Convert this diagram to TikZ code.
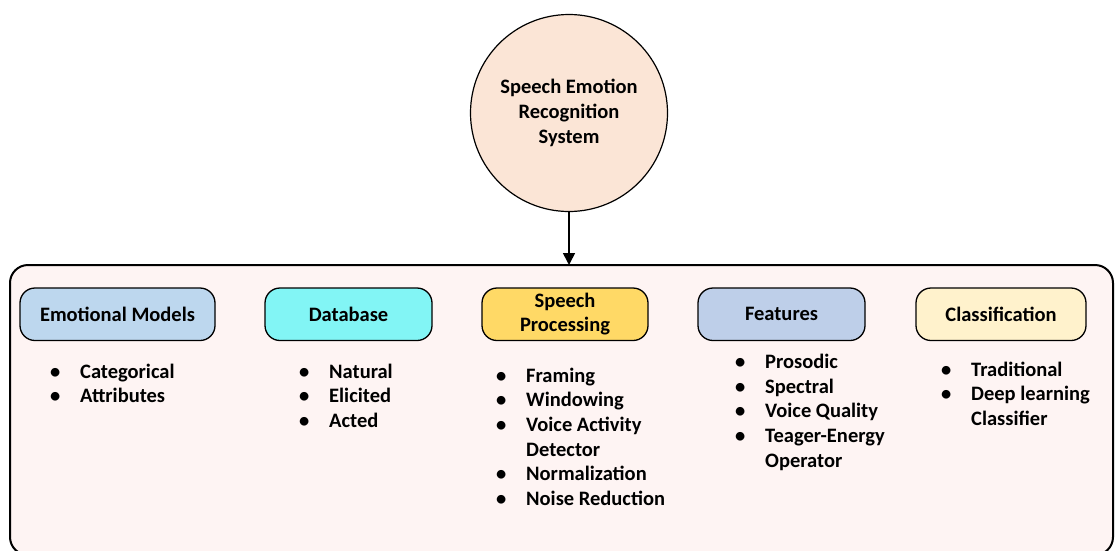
\documentclass[tikz,border=0pt]{standalone}
\usepackage{fontspec}
\setmainfont{Carlito}
\usetikzlibrary{arrows.meta}
\definecolor{circfill}{RGB}{251,229,214}
\definecolor{framefill}{RGB}{254,244,243}
\definecolor{emfill}{RGB}{189,215,238}
\definecolor{dbfill}{RGB}{130,245,245}
\definecolor{spfill}{RGB}{255,217,102}
\definecolor{ftfill}{RGB}{190,207,233}
\definecolor{clfill}{RGB}{255,242,204}
\newcommand\bitem[1]{\makebox[30pt][l]{\textbullet}#1}
\newcommand\bcont[1]{\hspace*{30pt}#1}
\begin{document}
\begin{tikzpicture}[x=1pt,y=-1pt,
  bigframe/.style={draw=black, line width=2pt, fill=framefill, rounded corners=18pt, inner sep=0pt, outer sep=0pt, anchor=north west},
  head/.style={draw=black, line width=1.3pt, rounded corners=15pt, minimum height=52.5pt, inner sep=0pt, outer sep=0pt, anchor=north west, align=center, font=\fontsize{20.5}{24}\selectfont\bfseries},
  listtext/.style={inner sep=0pt, anchor=base west, font=\fontsize{20.5}{24.7}\selectfont\bfseries},
  arr/.style={line width=1.6pt, -{Triangle[width=12pt,length=12pt]}}]
\useasboundingbox (0,0) rectangle (1115,550);
\clip (0,0) rectangle (1115,550);
\node[bigframe, minimum width=1103pt, minimum height=290pt] (frame) at (10,265) {};
\node[circle, draw=black, line width=1.2pt, fill=circfill, minimum size=197pt, inner sep=0pt, align=center, font=\fontsize{20.5}{25}\selectfont\bfseries] (ser) at (569,113) {Speech Emotion\\Recognition\\System};
\draw[arr] (ser.south) -- (ser.south |- frame.north);
\node[head, fill=emfill, minimum width=195pt] (em) at (20,288) {Emotional Models};
\node[head, fill=dbfill, minimum width=167pt] (db) at (265,288) {Database};
\node[head, fill=spfill, minimum width=166pt] (sp) at (482,288) {Speech\\Processing};
\node[head, fill=ftfill, minimum width=167pt] (ft) at (698,288) {Features};
\node[head, fill=clfill, minimum width=170pt] (cl) at (916,288) {Classification};
\node[listtext] (emlist) at (50,378) {\begin{tabular}[t]{@{}l@{}}\bitem{Categorical}\\\bitem{Attributes}\end{tabular}};
\node[listtext] (dblist) at (299,378) {\begin{tabular}[t]{@{}l@{}}\bitem{Natural}\\\bitem{Elicited}\\\bitem{Acted}\end{tabular}};
\node[listtext] (splist) at (496,382) {\begin{tabular}[t]{@{}l@{}}\bitem{Framing}\\\bitem{Windowing}\\\bitem{Voice Activity}\\\bcont{Detector}\\\bitem{Normalization}\\\bitem{Noise Reduction}\end{tabular}};
\node[listtext] (ftlist) at (735,368.5) {\begin{tabular}[t]{@{}l@{}}\bitem{Prosodic}\\\bitem{Spectral}\\\bitem{Voice Quality}\\\bitem{Teager-Energy}\\\bcont{Operator}\end{tabular}};
\node[listtext] (cllist) at (941,376) {\begin{tabular}[t]{@{}l@{}}\bitem{Traditional}\\\bitem{Deep learning}\\\bcont{Classifier}\end{tabular}};
\end{tikzpicture}
\end{document}
